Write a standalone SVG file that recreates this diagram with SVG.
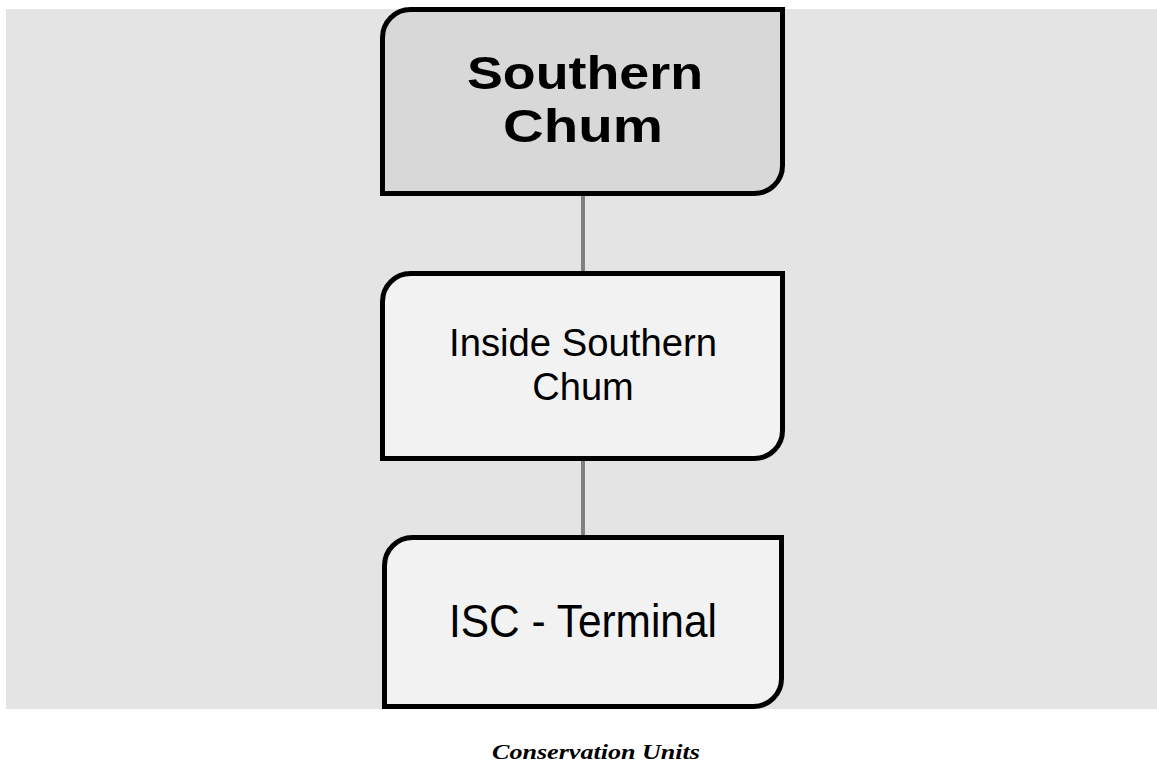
<svg xmlns="http://www.w3.org/2000/svg" width="1157" height="763" viewBox="0 0 1157 763">
<style>
.node{stroke:#000;stroke-width:5}
.n1{fill:#d8d8d8}
.n2{fill:#f2f2f2}
.t{font-family:"Liberation Sans",Arial,sans-serif;fill:#000;text-anchor:middle}
.conn{stroke:#808080;stroke-width:4;fill:none}
</style>
<rect x="6" y="9" width="1151" height="700" fill="#e4e4e4"/>
<g id="connectors">
<line class="conn" x1="583" y1="194" x2="583" y2="273"/>
<line class="conn" x1="583" y1="458" x2="583" y2="537"/>
</g>
<g id="node-southern-chum">
<path class="node n1" d="M410.5 9.5 H782.5 V165.5 A28 28 0 0 1 754.5 193.5 H382.5 V37.5 A28 28 0 0 1 410.5 9.5 Z"/>
<text class="t" x="585" y="89" font-size="46" font-weight="bold" textLength="236" lengthAdjust="spacingAndGlyphs">Southern</text>
<text class="t" x="583" y="142" font-size="46" font-weight="bold" textLength="160" lengthAdjust="spacingAndGlyphs">Chum</text>
</g>
<g id="node-inside-southern-chum">
<path class="node n2" d="M410.5 273.5 H782.5 V430.5 A28 28 0 0 1 754.5 458.5 H382.5 V301.5 A28 28 0 0 1 410.5 273.5 Z"/>
<text class="t" x="583" y="356" font-size="38" textLength="268" lengthAdjust="spacingAndGlyphs">Inside Southern</text>
<text class="t" x="583" y="400" font-size="38">Chum</text>
</g>
<g id="node-isc-terminal">
<path class="node n2" d="M412.5 537.5 H781.5 V678.5 A28 28 0 0 1 753.5 706.5 H384.5 V565.5 A28 28 0 0 1 412.5 537.5 Z"/>
<text class="t" x="583" y="637" font-size="46" textLength="268" lengthAdjust="spacingAndGlyphs">ISC - Terminal</text>
</g>
<text x="596" y="759" font-family="'Liberation Serif','Times New Roman',serif" font-style="italic" font-weight="bold" font-size="22" text-anchor="middle" textLength="208" lengthAdjust="spacingAndGlyphs">Conservation Units</text>
</svg>
